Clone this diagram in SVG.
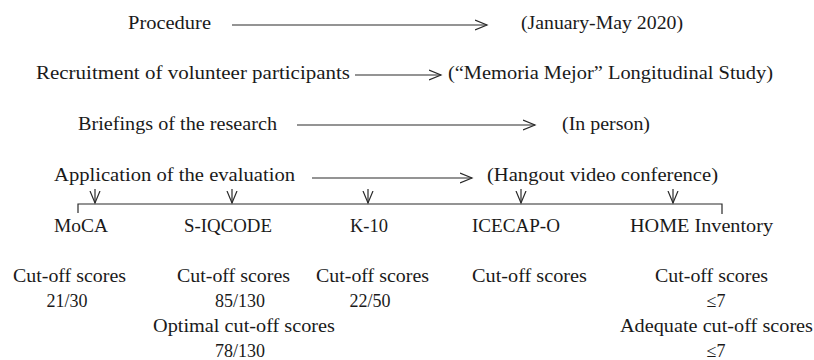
<svg xmlns="http://www.w3.org/2000/svg" width="814" height="360" viewBox="0 0 814 360">
<style>
text{font-family:'Liberation Serif','DejaVu Serif',serif;font-size:18px;fill:#1a1a1a}
.ln{stroke:#2a2a2a;stroke-width:1.2;fill:none}
</style>
<defs>
<marker id="ah" markerWidth="14" markerHeight="12" refX="12" refY="6" orient="auto" markerUnits="userSpaceOnUse">
<path d="M0,1 L12,6 L0,11" fill="none" stroke="#2a2a2a" stroke-width="1.2"/>
</marker>
</defs>
<rect width="814" height="360" fill="#fff"/>
<g font-family="Liberation Serif, DejaVu Serif, serif">
<g id="procedure"><text x="128" y="29" textLength="83" lengthAdjust="spacingAndGlyphs">Procedure</text></g>
<g id="dates"><text x="521" y="29" textLength="162" lengthAdjust="spacingAndGlyphs">(January-May 2020)</text></g>
<g id="recruitment"><text x="36" y="79" textLength="314" lengthAdjust="spacingAndGlyphs">Recruitment of volunteer participants</text></g>
<g id="study"><text x="448" y="79" textLength="325" lengthAdjust="spacingAndGlyphs">(“Memoria Mejor” Longitudinal Study)</text></g>
<g id="briefings"><text x="78" y="130" textLength="199" lengthAdjust="spacingAndGlyphs">Briefings of the research</text></g>
<g id="inperson"><text x="562" y="130" textLength="88" lengthAdjust="spacingAndGlyphs">(In person)</text></g>
<g id="application"><text x="54" y="181" textLength="241" lengthAdjust="spacingAndGlyphs">Application of the evaluation</text></g>
<g id="hangout"><text x="487" y="181" textLength="231" lengthAdjust="spacingAndGlyphs">(Hangout video conference)</text></g>
<g id="moca">
<text x="54" y="232" textLength="54" lengthAdjust="spacingAndGlyphs">MoCA</text>
<text x="13" y="282" textLength="113" lengthAdjust="spacingAndGlyphs">Cut-off scores</text>
<text x="67" y="307" text-anchor="middle">21/30</text>
</g>
<g id="siqcode">
<text x="184" y="232" textLength="88" lengthAdjust="spacingAndGlyphs">S-IQCODE</text>
<text x="177" y="282" textLength="113" lengthAdjust="spacingAndGlyphs">Cut-off scores</text>
<text x="240" y="307" text-anchor="middle">85/130</text>
<text x="153" y="332" textLength="182" lengthAdjust="spacingAndGlyphs">Optimal cut-off scores</text>
<text x="240" y="357" text-anchor="middle">78/130</text>
</g>
<g id="k10">
<text x="350" y="232" textLength="38" lengthAdjust="spacingAndGlyphs">K-10</text>
<text x="316" y="282" textLength="113" lengthAdjust="spacingAndGlyphs">Cut-off scores</text>
<text x="370" y="307" text-anchor="middle">22/50</text>
</g>
<g id="icecap">
<text x="472" y="232" textLength="88" lengthAdjust="spacingAndGlyphs">ICECAP-O</text>
<text x="472" y="282" textLength="115" lengthAdjust="spacingAndGlyphs">Cut-off scores</text>
</g>
<g id="home">
<text x="630" y="232" textLength="143" lengthAdjust="spacingAndGlyphs">HOME Inventory</text>
<text x="655" y="282" textLength="113" lengthAdjust="spacingAndGlyphs">Cut-off scores</text>
<text x="716" y="307" text-anchor="middle">≤7</text>
<text x="620" y="332" textLength="193" lengthAdjust="spacingAndGlyphs">Adequate cut-off scores</text>
<text x="716" y="357" text-anchor="middle">≤7</text>
</g>
</g>
<g id="connectors" class="ln">
<line x1="232" y1="25" x2="487" y2="25" marker-end="url(#ah)"/>
<line x1="355" y1="75" x2="441" y2="75" marker-end="url(#ah)"/>
<line x1="297" y1="125" x2="535" y2="125" marker-end="url(#ah)"/>
<line x1="312" y1="178" x2="472" y2="178" marker-end="url(#ah)"/>
<line x1="95" y1="189" x2="95" y2="203" marker-end="url(#ah)"/>
<line x1="232" y1="189" x2="232" y2="203" marker-end="url(#ah)"/>
<line x1="368" y1="189" x2="368" y2="203" marker-end="url(#ah)"/>
<line x1="521" y1="189" x2="521" y2="203" marker-end="url(#ah)"/>
<line x1="673" y1="189" x2="673" y2="203" marker-end="url(#ah)"/>
<polyline points="78,213 78,204 722,204 722,214"/>
</g>
</svg>
